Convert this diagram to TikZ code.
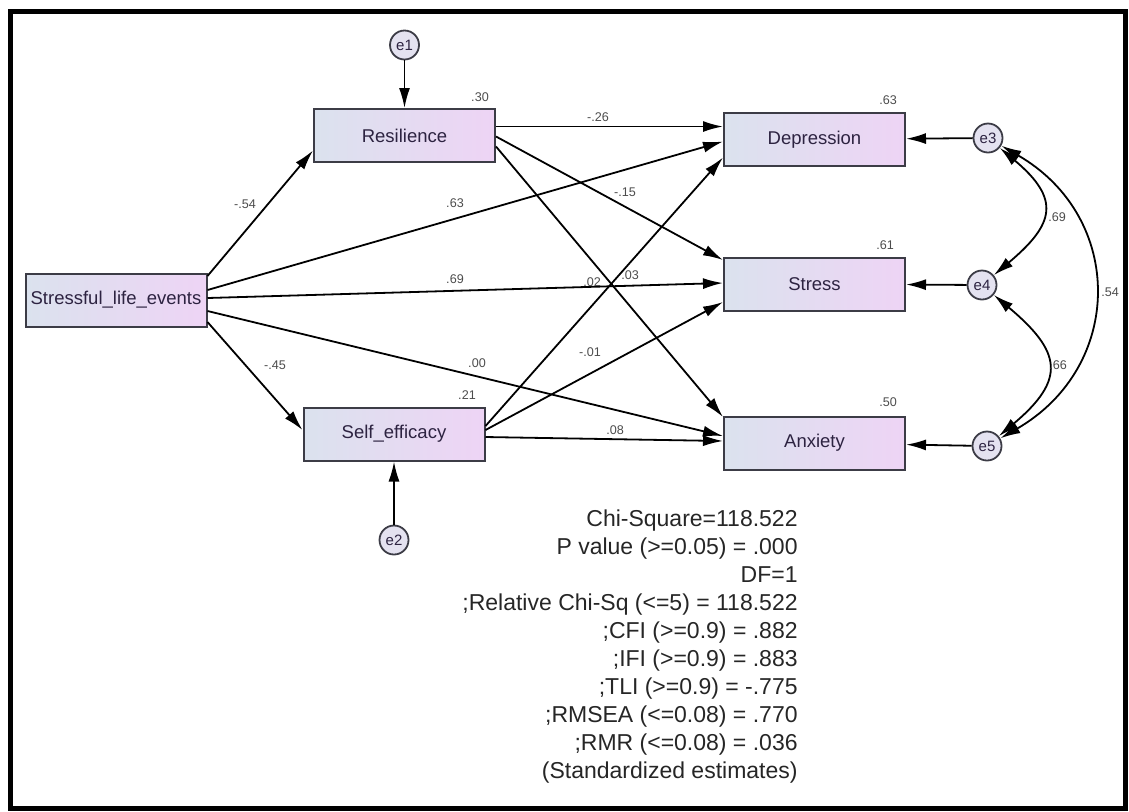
\documentclass[tikz,border=0pt]{standalone}
\usepackage{fontspec}
\setmainfont{Liberation Sans}
\usetikzlibrary{arrows.meta,calc}

\definecolor{boxleft}{RGB}{219,226,238}
\definecolor{boxright}{RGB}{238,212,245}
\definecolor{errfill}{RGB}{228,226,240}
\definecolor{boxline}{RGB}{60,60,70}
\definecolor{txtdark}{RGB}{45,35,65}

\tikzset{
  obs/.style={draw=boxline, line width=1pt, left color=boxleft, right color=boxright,
    minimum width=90.5pt, minimum height=26.5pt, inner sep=0pt,
    font=\fontsize{9.25}{11}\selectfont, text=txtdark},
  err/.style={circle, draw=boxline, line width=0.9pt, fill=errfill, minimum size=14.5pt,
    inner sep=0pt, font=\fontsize{7.5}{9}\selectfont, text=txtdark},
  reg/.style={-{Latex[length=10pt,width=5.5pt]}, line width=0.9pt},
  cov/.style={{Latex[length=10pt,width=5.5pt]}-{Latex[length=10pt,width=5.5pt]}, line width=0.9pt},
  coef/.style={font=\fontsize{6.3}{7}\selectfont, text=black!70, inner sep=0pt},
}

\begin{document}
\begin{tikzpicture}[x=0.5pt,y=-0.5pt]
  \useasboundingbox (0,0) rectangle (1129,811);
  \draw[line width=2.5pt] (10,11) rectangle (1125,808);

  % observed variables
  \node[obs] (sle) at (116,300) {Stressful\_life\_events};
  \node[obs] (res) at (404.5,135.5) {Resilience};
  \node[obs] (eff) at (394,434) {Self\_efficacy};
  \node[obs] (dep) at (814.5,139.5) {Depression};
  \node[obs] (str) at (814.5,284) {Stress};
  \node[obs] (anx) at (814.5,443) {Anxiety};

  % error terms
  \node[err] (e1) at (404.5,45) {e1};
  \node[err] (e2) at (394,540) {e2};
  \node[err] (e3) at (988,138) {e3};
  \node[err] (e4) at (982,285) {e4};
  \node[err] (e5) at (987,446) {e5};

  % paths
  \draw[reg] ($(sle.east)+(0,-24)$) -- ($(res.west)+(0,15)$);
  \draw[reg] ($(sle.east)+(0,-10)$) -- ($(dep.west)+(0,2)$);
  \draw[reg] ($(sle.east)+(0,-2)$) -- ($(str.west)+(0,-1)$);
  \draw[reg] ($(sle.east)+(0,11)$) -- ($(anx.west)+(0,-7)$);
  \draw[reg] ($(sle.east)+(0,22)$) -- ($(eff.west)+(0,-4)$);
  \draw[reg] ($(res.east)+(0,-9)$) -- ($(dep.west)+(0,-13)$);
  \draw[reg] ($(res.east)+(0,1)$) -- ($(str.west)+(0,-24)$);
  \draw[reg] ($(res.east)+(0,11)$) -- ($(anx.west)+(0,-26)$);
  \draw[reg] ($(eff.east)+(0,-8)$) -- ($(dep.west)+(0,18)$);
  \draw[reg] ($(eff.east)+(0,-4)$) -- ($(str.west)+(0,18)$);
  \draw[reg] ($(eff.east)+(0,3)$) -- ($(anx.west)+(0,-2)$);

  \draw[reg] (e1) -- (res);
  \draw[reg] (e2) -- (eff);
  \draw[reg] (e3) -- (dep);
  \draw[reg] (e4) -- (str);
  \draw[reg] (e5) -- (anx);

  % covariances
  \draw[cov] (e3) to[out=-40,in=40,looseness=1.6] (e4);
  \draw[cov] (e4) to[out=-40,in=40,looseness=1.6] (e5);
  \draw[cov] (e3) to[out=-30,in=30,looseness=1.25] (e5);

  % squared multiple correlations
  \node[coef] (r2res) at (480,97) {.30};
  \node[coef] (r2eff) at (467,395) {.21};
  \node[coef] (r2dep) at (888,100) {.63};
  \node[coef] (r2str) at (885,245) {.61};
  \node[coef] (r2anx) at (888,402) {.50};

  % standardized weights
  \node[coef] (w1) at (245,204) {-.54};
  \node[coef] (w2) at (455,203) {.63};
  \node[coef] (w3) at (455,279) {.69};
  \node[coef] (w4) at (477,363) {.00};
  \node[coef] (w5) at (275,365) {-.45};
  \node[coef] (w6) at (598,117) {-.26};
  \node[coef] (w7) at (625,192) {-.15};
  \node[coef] (w8) at (592,282) {.02};
  \node[coef] (w9) at (630,275) {.03};
  \node[coef] (w10) at (590,352) {-.01};
  \node[coef] (w11) at (615,430) {.08};
  \node[coef] (c34) at (1057,217) {.69};
  \node[coef] (c45) at (1058,365) {.66};
  \node[coef] (c35) at (1110,292) {.54};

  % fit indices
  \node[font=\fontsize{11.5}{14}\selectfont, align=right, anchor=east, inner sep=0pt,
    text=black!85] (fit) at (798,647) {Chi-Square=118.522\\
    P value (>=0.05) = .000\\
    DF=1\\
    ;Relative Chi-Sq (<=5) = 118.522\\
    ;CFI (>=0.9) = .882\\
    ;IFI (>=0.9) = .883\\
    ;TLI (>=0.9) = -.775\\
    ;RMSEA (<=0.08) = .770\\
    ;RMR (<=0.08) = .036\\
    (Standardized estimates)};
\end{tikzpicture}
\end{document}
